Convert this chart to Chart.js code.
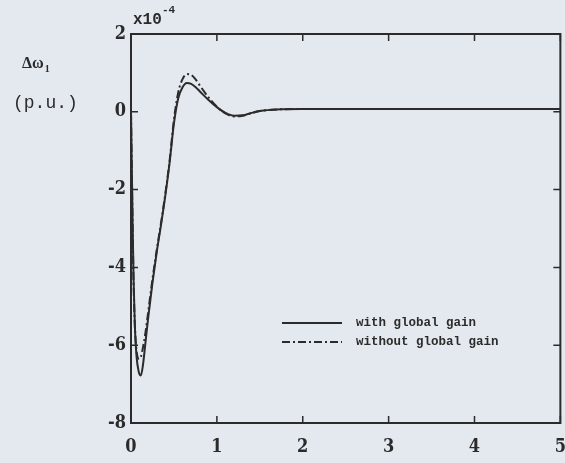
<!DOCTYPE html>
<html>
<head>
<meta charset="utf-8">
<script src="https://cdn.jsdelivr.net/npm/chart.js@4/dist/chart.umd.min.js"></script>
<style>
  html, body { margin: 0; padding: 0; overflow: hidden; background: #e4e8ef; }
  #wrap { width: 580px; height: 463px; }
</style>
</head>
<body>
<div id="wrap"><canvas id="speedChart" width="580" height="463"></canvas></div>
<script>
// time axis (s)
const time = [0, 0.01, 0.02, 0.03, 0.045, 0.065, 0.09, 0.115, 0.14, 0.17, 0.2, 0.25, 0.3, 0.35, 0.4, 0.45,
  0.5, 0.55, 0.6, 0.65, 0.7, 0.75, 0.8, 0.9, 1.0, 1.1, 1.2, 1.3, 1.4, 1.5, 1.7, 2.0, 2.5, 3, 4, 5]

// speed deviation, x1e-4 p.u.
const withGain = [0, -1.5, -3.0, -4.3, -5.5, -6.3, -6.68, -6.78, -6.5, -5.9, -5.3, -4.4, -3.6, -2.9, -2.15, -1.3,
  -0.3, 0.35, 0.63, 0.74, 0.72, 0.64, 0.53, 0.31, 0.12, -0.03, -0.1, -0.09, -0.03, 0.02, 0.06, 0.07, 0.07, 0.07, 0.07, 0.07]
const withoutGain = [0, -1.6, -3.1, -4.4, -5.5, -6.15, -6.35, -6.3, -6.05, -5.65, -5.15, -4.3, -3.55, -2.85, -2.1, -1.25,
  -0.2, 0.5, 0.84, 0.97, 0.95, 0.84, 0.68, 0.38, 0.13, -0.04, -0.12, -0.1, -0.04, 0.02, 0.06, 0.07, 0.07, 0.07, 0.07, 0.07]

const xTicks = [0, 1, 2, 3, 4, 5]
const yTicks = [-8, -6, -4, -2, 0, 2]
const seriesNames = ['with global gain', 'without global gain']

const ink = '#2b2b2b'
const tickFont = { family: "'DejaVu Serif Condensed', 'Liberation Serif', serif", size: 18, weight: 'bold' }

const toPoints = (ys) => time.map((t, i) => ({ x: t, y: ys[i] }))

// frame, inward ticks, legend and labels
const decorations = {
  id: 'decorations',
  afterDraw (chart) {
    const { ctx, chartArea: a, scales } = chart
    ctx.save()
    ctx.strokeStyle = ink
    ctx.lineWidth = 2
    ctx.strokeRect(a.left, a.top, a.right - a.left, a.bottom - a.top)

    const len = 7
    ctx.lineWidth = 1.5
    ctx.beginPath()
    xTicks.forEach((v) => {
      const px = scales.x.getPixelForValue(v)
      ctx.moveTo(px, a.bottom); ctx.lineTo(px, a.bottom - len)
      ctx.moveTo(px, a.top); ctx.lineTo(px, a.top + len)
    })
    yTicks.forEach((v) => {
      const py = scales.y.getPixelForValue(v)
      ctx.moveTo(a.left, py); ctx.lineTo(a.left + len, py)
      ctx.moveTo(a.right, py); ctx.lineTo(a.right - len, py)
    })
    ctx.stroke()

    // legend
    const lx = 282
    const rows = [323, 342]
    ctx.font = "bold 12.5px 'Liberation Mono', monospace"
    ctx.textBaseline = 'middle'
    chart.data.datasets.forEach((ds, i) => {
      ctx.strokeStyle = ds.borderColor
      ctx.lineWidth = 2
      ctx.setLineDash(ds.borderDash || [])
      ctx.beginPath()
      ctx.moveTo(lx, rows[i]); ctx.lineTo(lx + 60, rows[i])
      ctx.stroke()
      ctx.setLineDash([])
      ctx.fillStyle = ink
      ctx.fillText(seriesNames[i], lx + 74, rows[i])
    })

    // exponent above the axis
    ctx.fillStyle = ink
    ctx.textBaseline = 'alphabetic'
    ctx.font = "bold 16px 'Liberation Mono', monospace"
    ctx.fillText('x10', a.left + 2, a.top - 10)
    ctx.font = "bold 11px 'Liberation Mono', monospace"
    ctx.fillText('-4', a.left + 31, a.top - 21)

    // quantity and unit
    ctx.font = "bold 16px 'Liberation Serif', serif"
    ctx.fillText('Δω', 22, 68)
    const w = ctx.measureText('Δω').width
    ctx.font = "bold 10px 'Liberation Serif', serif"
    ctx.fillText('1', 22 + w + 1, 72)
    ctx.font = "18px 'Liberation Mono', monospace"
    ctx.fillText('(p.u.)', 13, 108)
    ctx.restore()
  }
}

const chart = new Chart(document.getElementById('speedChart'), {
  type: 'line',
  data: {
    datasets: [
      {
        label: seriesNames[0],
        data: toPoints(withGain),
        borderColor: ink,
        borderWidth: 2,
        pointRadius: 0,
        cubicInterpolationMode: 'monotone'
      },
      {
        label: seriesNames[1],
        data: toPoints(withoutGain),
        borderColor: ink,
        borderWidth: 2,
        borderDash: [8, 3, 2, 3],
        pointRadius: 0,
        cubicInterpolationMode: 'monotone'
      }
    ]
  },
  options: {
    responsive: false,
    animation: false,
    layout: { padding: { top: 34, right: 14, left: 0, bottom: 0 } },
    plugins: { legend: { display: false }, tooltip: { enabled: false } },
    scales: {
      x: {
        type: 'linear',
        min: 0,
        max: 5,
        grid: { display: false, drawTicks: false },
        border: { display: false },
        afterBuildTicks: (s) => { s.ticks = xTicks.map((v) => ({ value: v })) },
        afterFit: (s) => { s.height = 40 },
        ticks: { color: ink, font: tickFont, padding: 14, maxRotation: 0 }
      },
      y: {
        min: -8,
        max: 2,
        grid: { display: false, drawTicks: false },
        border: { display: false },
        afterBuildTicks: (s) => { s.ticks = yTicks.map((v) => ({ value: v })) },
        afterFit: (s) => { s.width = 131 },
        ticks: { color: ink, font: tickFont, padding: 5 }
      }
    }
  },
  plugins: [decorations]
})
</script>
</body>
</html>
